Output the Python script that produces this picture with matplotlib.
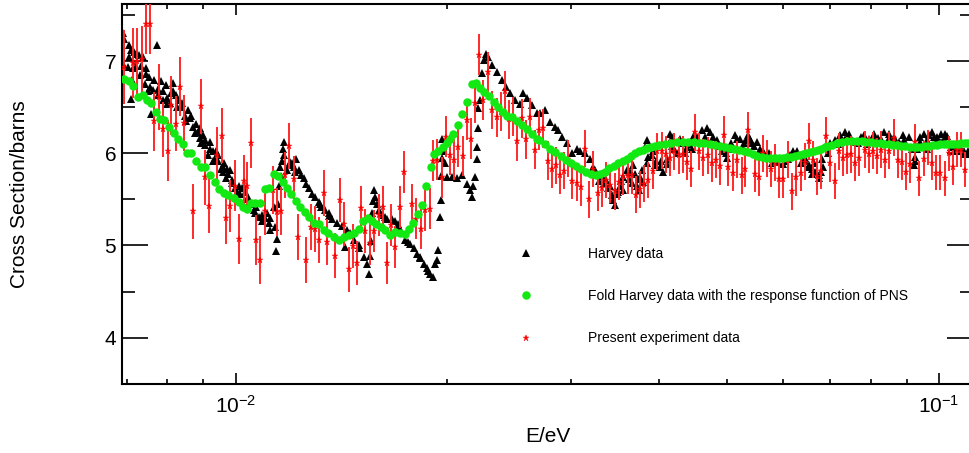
import matplotlib
matplotlib.use("Agg")
import matplotlib.pyplot as plt
from matplotlib.ticker import LogLocator, MultipleLocator, NullFormatter, FixedLocator

plt.rcParams['font.family'] = ['Liberation Sans', 'DejaVu Sans']
plt.rcParams['mathtext.fontset'] = 'custom'
plt.rcParams['mathtext.rm'] = 'Liberation Sans'

# Harvey data (E in eV, cross section in barns)
harvey_e = [0.006914, 0.006925, 0.006952, 0.007027, 0.007066, 0.007102, 0.007114, 0.007143, 0.007167, 0.007221,
            0.007302, 0.007314, 0.007381, 0.007429, 0.007461, 0.007545, 0.007565, 0.007585, 0.007628, 0.00767,
            0.007736, 0.007754, 0.007838, 0.007882, 0.007967, 0.007979, 0.008063, 0.008097, 0.008143, 0.008232,
            0.008324, 0.008368, 0.008469, 0.008553, 0.008609, 0.008694, 0.008789, 0.008838, 0.008897, 0.008935,
            0.008985, 0.009035, 0.009132, 0.009191, 0.009282, 0.009344, 0.009384, 0.009438, 0.009539, 0.009613,
            0.009645, 0.009687, 0.009719, 0.009826, 0.009881, 0.009987, 0.0101, 0.010153, 0.010267, 0.01032,
            0.010434, 0.010607, 0.010663, 0.010782, 0.0109, 0.01108, 0.011142, 0.0112, 0.011326, 0.011385,
            0.011411, 0.01145, 0.011506, 0.011543, 0.011574, 0.0116, 0.011638, 0.011665, 0.011704, 0.01183,
            0.011958, 0.012092, 0.012184, 0.012292, 0.012396, 0.012494, 0.012588, 0.0127, 0.012838, 0.012978,
            0.013123, 0.013235, 0.013409, 0.01356, 0.01371, 0.013936, 0.014164, 0.014316, 0.014552, 0.014717,
            0.01496, 0.01521, 0.015375, 0.01546, 0.01554, 0.015575, 0.015651, 0.015713, 0.015795, 0.015884,
            0.015974, 0.016147, 0.016416, 0.016686, 0.016867, 0.017056, 0.01724, 0.017428, 0.017718, 0.017914,
            0.01811, 0.018306, 0.01851, 0.01869, 0.018913, 0.0191, 0.019226, 0.019316, 0.019419, 0.019525,
            0.019569, 0.01962, 0.019651, 0.01968, 0.019735, 0.019847, 0.01996, 0.02029, 0.020623, 0.020966,
            0.021313, 0.021543, 0.021664, 0.021779, 0.0219, 0.022022, 0.022065, 0.0221, 0.022138, 0.02226,
            0.022384, 0.022552, 0.0227, 0.022873, 0.023129, 0.023508, 0.0239, 0.02424, 0.024557, 0.024967,
            0.025383, 0.025658, 0.025942, 0.02637, 0.0268, 0.02709, 0.02754, 0.02799, 0.02846, 0.02877,
            0.02909, 0.02957, 0.03006, 0.03055, 0.03088, 0.0314, 0.03192, 0.03227, 0.03263, 0.03316,
            0.0336, 0.03408, 0.03445, 0.03464, 0.03483, 0.03521, 0.03559, 0.03599, 0.03639, 0.03678,
            0.0372, 0.03748, 0.0378, 0.038, 0.03822, 0.03843, 0.03906, 0.03949, 0.04014, 0.04058,
            0.04104, 0.0414, 0.04172, 0.0424, 0.0431, 0.0438, 0.04453, 0.04527, 0.046, 0.04678,
            0.0473, 0.0478, 0.04834, 0.04914, 0.04982, 0.0506, 0.05133, 0.05205, 0.05274, 0.05343,
            0.0542, 0.0551, 0.0557, 0.0563, 0.05724, 0.05817, 0.05913, 0.0601, 0.0611, 0.0621,
            0.0628, 0.06355, 0.06439, 0.06525, 0.06598, 0.0667, 0.06741, 0.06816, 0.0689, 0.07005,
            0.0712, 0.07239, 0.07359, 0.07456, 0.0756, 0.0767, 0.07745, 0.07813, 0.0794, 0.08072,
            0.08205, 0.0834, 0.08478, 0.08617, 0.0876, 0.08906, 0.09054, 0.09203, 0.09254, 0.09315,
            0.09406, 0.0951, 0.09616, 0.09774, 0.09935, 0.10077, 0.1021, 0.1032, 0.1049, 0.10663,
            0.10839, 0.11018,
            0.0334, 0.035, 0.0374, 0.0384, 0.0396, 0.042, 0.0435, 0.0445, 0.0456, 0.0482,
            0.0499, 0.0527, 0.0539, 0.056, 0.0578, 0.0605, 0.0636, 0.066, 0.0675, 0.0685,
            0.0735, 0.079, 0.082, 0.0865, 0.0925, 0.096, 0.0985, 0.1005, 0.104, 0.1075, 0.11,
            0.0324, 0.0329, 0.0338, 0.0343, 0.0353, 0.0356, 0.0362, 0.0366, 0.037, 0.0376,
            0.0386, 0.0392, 0.0402, 0.041, 0.0417, 0.0428, 0.0441, 0.0449, 0.0465, 0.047,
            0.0487, 0.0495, 0.051, 0.0517, 0.0531, 0.0546, 0.0567, 0.0585, 0.0615, 0.0645,
            0.0652, 0.0665, 0.0679, 0.0696, 0.0718, 0.0745, 0.0772, 0.0805, 0.0828, 0.085,
            0.089, 0.0898, 0.0915, 0.094, 0.0968, 0.0995, 0.1015, 0.1028, 0.1058, 0.1085, 0.1108,
            0.00705, 0.00712, 0.0072, 0.00735, 0.00745, 0.00752, 0.00775, 0.0079, 0.008, 0.00815,
            0.00825, 0.0084, 0.0085, 0.00865, 0.00875, 0.0089, 0.00905, 0.0092, 0.0093, 0.00945,
            0.0096, 0.00975, 0.0099, 0.01005, 0.0102, 0.01038, 0.0105, 0.0107, 0.0109, 0.011,
            0.0112, 0.01172, 0.0119, 0.01205, 0.01215,
            0.0132, 0.0136, 0.0144, 0.015, 0.0157, 0.0163, 0.017, 0.0176, 0.0183, 0.0188]
harvey_xs = [7.30, 6.97, 7.24, 6.94, 7.17, 7.12, 6.59, 6.92, 7.10, 7.08,
             7.07, 6.85, 7.05, 6.75, 6.86, 6.83, 6.72, 6.43, 6.69, 6.79,
             7.17, 6.63, 6.78, 6.58, 6.74, 6.54, 6.55, 6.65, 6.76, 6.63,
             6.58, 6.50, 6.40, 6.47, 6.38, 6.29, 6.32, 6.23, 6.17, 6.11,
             6.20, 6.09, 5.98, 6.05, 6.02, 5.95, 6.03, 5.92, 5.83, 5.85,
             5.89, 5.73, 5.83, 5.82, 5.71, 5.62, 5.65, 5.56, 5.64, 5.58,
             5.53, 5.38, 5.35, 5.31, 5.27, 5.35, 5.24, 5.17, 5.42, 5.20,
             4.94, 5.07, 5.45, 5.65, 5.85, 5.75, 5.92, 6.05, 6.12, 5.82,
             5.91, 5.85, 5.94, 5.82, 5.76, 5.73, 5.67, 5.62, 5.56, 5.53,
             5.47, 5.42, 5.38, 5.32, 5.29, 5.24, 5.21, 4.98, 5.13, 5.06,
             4.97, 4.88, 4.80, 4.69, 4.89, 5.05, 5.35, 5.60, 5.53, 5.45,
             5.38, 5.33, 5.29, 5.29, 5.26, 5.20, 5.13, 5.06, 5.02, 4.97,
             4.91, 4.86, 4.80, 4.75, 4.69, 4.66, 4.80, 4.84, 4.95, 5.31,
             5.49, 5.75, 5.95, 6.16, 6.03, 5.89, 5.74, 5.74, 5.73, 5.76,
             5.67, 5.60, 5.53, 5.65, 5.74, 5.94, 6.07, 6.27, 6.49, 6.58,
             6.87, 7.01, 7.08, 7.05, 6.96, 6.88, 6.79, 6.72, 6.65, 6.58,
             6.54, 6.65, 6.60, 6.52, 6.44, 6.44, 6.47, 6.34, 6.29, 6.25,
             6.18, 6.11, 6.00, 6.05, 6.03, 6.00, 5.94, 5.85, 5.78, 5.75,
             5.71, 5.64, 5.49, 5.44, 5.56, 5.64, 5.74, 5.82, 5.80, 5.87,
             5.64, 5.60, 5.82, 5.69, 6.07, 6.14, 5.98, 5.87, 5.85, 5.80,
             5.94, 6.21, 6.18, 6.00, 6.11, 6.07, 6.14, 6.18, 6.25, 6.27,
             6.23, 6.18, 6.14, 6.03, 6.00, 6.11, 6.20, 6.16, 6.11, 6.20,
             6.11, 6.12, 6.05, 6.02, 6.00, 5.94, 5.91, 5.88, 5.94, 6.02,
             6.03, 5.98, 5.92, 5.87, 5.83, 5.80, 5.76, 5.94, 6.07, 6.11,
             6.14, 6.20, 6.23, 6.21, 6.12, 6.11, 6.18, 6.20, 6.16, 6.21,
             6.12, 6.23, 6.21, 6.18, 6.12, 6.14, 6.18, 5.87, 5.96, 6.05,
             6.18, 6.21, 6.14, 6.23, 6.14, 6.21, 6.21, 6.11, 6.03, 6.03,
             5.99, 5.99,
             5.68, 5.58, 5.72, 5.90, 5.92, 6.05, 6.00, 6.05, 6.12, 6.10,
             5.95, 6.06, 6.16, 6.00, 5.90, 5.92, 5.90, 5.78, 5.73, 5.85,
             6.15, 6.10, 6.17, 6.12, 5.92, 6.05, 6.18, 6.12, 6.07, 6.05, 6.03,
             5.82, 5.70, 5.62, 5.55, 5.70, 5.60, 5.72, 5.68, 5.78, 5.74,
             5.96, 6.02, 5.92, 5.88, 6.08, 6.15, 6.10, 6.20, 6.18, 6.12,
             6.08, 6.04, 6.05, 6.16, 6.14, 6.08, 5.97, 5.97, 5.98, 5.95,
             5.85, 5.90, 5.80, 6.00, 6.10, 6.15, 6.14, 6.18, 6.15, 6.17,
             6.20, 6.09, 6.05, 6.12, 6.20, 6.18, 6.15, 6.19, 6.06, 6.02, 6.01,
             7.05, 6.80, 6.95, 6.95, 6.92, 6.68, 6.70, 6.68, 6.60, 6.68,
             6.50, 6.55, 6.35, 6.40, 6.22, 6.27, 6.14, 6.12, 5.92, 5.98,
             5.80, 5.77, 5.68, 5.58, 5.62, 5.50, 5.45, 5.42, 5.33, 5.30,
             5.30, 5.98, 5.87, 5.90, 5.80,
             5.45, 5.35, 5.17, 5.00, 5.48, 5.31, 5.23, 5.04, 4.88, 4.72]

# Harvey data folded with the PNS response function
fold_e = [0.006936, 0.007067, 0.007144, 0.007261, 0.007381, 0.007486, 0.007584, 0.007711, 0.007822, 0.007925,
          0.008055, 0.00817, 0.008296, 0.008414, 0.008535, 0.008647, 0.00879, 0.008934, 0.009052, 0.009184,
          0.009336, 0.009489, 0.009625, 0.009772, 0.009935, 0.010099, 0.010232, 0.010378, 0.010525, 0.010664,
          0.010839, 0.010997, 0.011141, 0.011327, 0.011487, 0.011666, 0.011831, 0.011999, 0.012185, 0.012358,
          0.012538, 0.012702, 0.012912, 0.013125, 0.013342, 0.013531, 0.013786, 0.014013, 0.014245, 0.01448,
          0.014721, 0.014962, 0.015174, 0.01541, 0.015628, 0.015849, 0.016095, 0.016323, 0.016592, 0.016866,
          0.017144, 0.017429, 0.017623, 0.017872, 0.01815, 0.018408, 0.018668, 0.018958, 0.019146, 0.019418,
          0.019701, 0.019957, 0.020175, 0.020394, 0.020692, 0.021005, 0.021311, 0.021662, 0.021968, 0.022259,
          0.022574, 0.022946, 0.023303, 0.023633, 0.024028, 0.024343, 0.024698, 0.025106, 0.02552, 0.025941,
          0.026375, 0.02681,
          0.0270, 0.0275, 0.0280, 0.0285, 0.0290, 0.0295, 0.0300, 0.0305, 0.0310, 0.0315,
          0.0320, 0.0325, 0.0330, 0.0335, 0.0340, 0.0345, 0.0350, 0.0355, 0.0360, 0.0365,
          0.0370, 0.0375, 0.0380, 0.0385, 0.0390, 0.0395, 0.0400,
          0.0408, 0.0416, 0.0424, 0.0432, 0.0440, 0.0448, 0.0456, 0.0464, 0.0472, 0.0480,
          0.0488, 0.0496, 0.0504, 0.0512, 0.0520, 0.0528, 0.0536, 0.0544, 0.0552, 0.0560,
          0.0568, 0.0576, 0.0584, 0.0592, 0.0600, 0.0608, 0.0616, 0.0624, 0.0632, 0.0640,
          0.0648, 0.0656, 0.0664, 0.0672, 0.0680, 0.0688, 0.0696, 0.0704,
          0.0716, 0.0728, 0.0740, 0.0752, 0.0764, 0.0776, 0.0788, 0.0800, 0.0812, 0.0824,
          0.0836, 0.0848, 0.0860, 0.0872, 0.0884, 0.0896, 0.0908, 0.0920, 0.0932, 0.0944,
          0.0956, 0.0968, 0.0980, 0.0992, 0.1004, 0.1016, 0.1028, 0.1040, 0.1052, 0.1064,
          0.1076, 0.1088, 0.1100, 0.1112]
fold_xs = [6.81, 6.78, 6.73, 6.61, 6.63, 6.58, 6.55, 6.45, 6.37, 6.36,
           6.28, 6.22, 6.16, 6.10, 6.00, 6.00, 5.92, 5.85, 5.85, 5.76,
           5.69, 5.61, 5.57, 5.55, 5.51, 5.47, 5.42, 5.40, 5.46, 5.46,
           5.46, 5.61, 5.62, 5.77, 5.75, 5.69, 5.62, 5.56, 5.48, 5.42,
           5.36, 5.31, 5.24, 5.23, 5.17, 5.13, 5.09, 5.06, 5.09, 5.11,
           5.14, 5.18, 5.26, 5.30, 5.27, 5.23, 5.20, 5.17, 5.11, 5.15,
           5.14, 5.12, 5.18, 5.24, 5.34, 5.44, 5.64, 5.85, 5.99, 6.03,
           6.07, 6.11, 6.16, 6.21, 6.31, 6.43, 6.56, 6.75, 6.76, 6.71,
           6.66, 6.62, 6.56, 6.50, 6.45, 6.41, 6.39, 6.35, 6.31, 6.26,
           6.21, 6.16,
           6.14, 6.10, 6.05, 6.01, 5.97, 5.93, 5.89, 5.86, 5.83, 5.80,
           5.78, 5.76, 5.78, 5.80, 5.84, 5.86, 5.89, 5.92, 5.94, 5.97,
           6.00, 6.02, 6.04, 6.06, 6.07, 6.08, 6.09,
           6.10, 6.11, 6.12, 6.12, 6.12, 6.12, 6.11, 6.11, 6.10, 6.09,
           6.08, 6.07, 6.06, 6.05, 6.04, 6.03, 6.01, 5.99, 5.97, 5.96,
           5.95, 5.95, 5.95, 5.95, 5.95, 5.96, 5.96, 5.97, 5.98, 5.99,
           6.00, 6.01, 6.02, 6.04, 6.05, 6.07, 6.08, 6.09,
           6.11, 6.12, 6.13, 6.13, 6.13, 6.13, 6.12, 6.12, 6.11, 6.11,
           6.10, 6.10, 6.09, 6.09, 6.08, 6.08, 6.07, 6.07, 6.07, 6.07,
           6.08, 6.08, 6.09, 6.09, 6.10, 6.10, 6.10, 6.10, 6.10, 6.10,
           6.11, 6.11, 6.11, 6.11]

# Present experiment (PNS) data with errors
pns_e = [0.006952, 0.007143, 0.007245, 0.007357, 0.007461, 0.00756, 0.00767, 0.007772, 0.007882, 0.00801,
         0.008097, 0.008232, 0.00834, 0.008461, 0.008694, 0.008935, 0.009053, 0.009182, 0.009416, 0.00956,
         0.009697, 0.009826, 0.009968, 0.0101, 0.010267, 0.010377, 0.010524, 0.010688, 0.01084, 0.010996,
         0.011289, 0.01145, 0.011612, 0.011766, 0.01192, 0.012092, 0.012264, 0.012588, 0.012808, 0.012978,
         0.013149, 0.01334, 0.013484, 0.01386, 0.014086, 0.01427, 0.014476, 0.014683, 0.014878, 0.01509,
         0.01529, 0.01551, 0.015713, 0.015974, 0.016184, 0.016416, 0.016632, 0.016867, 0.017111, 0.017337,
         0.017817, 0.018067, 0.018347, 0.018606, 0.018875, 0.019081, 0.019355, 0.019632, 0.019913, 0.020178,
         0.020441, 0.020733, 0.021035, 0.021313, 0.021593, 0.0219, 0.02221, 0.0225, 0.02283, 0.023174,
         0.023508, 0.02382, 0.02416, 0.0245, 0.02478, 0.02516, 0.025525, 0.02588, 0.02622, 0.026655,
         0.027, 0.02739, 0.02778, 0.02815, 0.02855, 0.028925, 0.02931, 0.02973, 0.03009, 0.03055,
         0.03098, 0.0314, 0.03181, 0.03227, 0.03273, 0.03316, 0.0336, 0.03408, 0.03464, 0.03509,
         0.03559, 0.03611, 0.03659, 0.03711, 0.0376, 0.03809, 0.03863, 0.03919, 0.03971, 0.04036,
         0.04095, 0.04149, 0.04203, 0.04263, 0.04324, 0.0438, 0.04439, 0.04502, 0.04566, 0.04626,
         0.0469, 0.04755, 0.04822, 0.04886, 0.04955, 0.05015, 0.05094, 0.05161, 0.05247, 0.05303,
         0.0536, 0.05467, 0.05539, 0.0563, 0.05693, 0.05774, 0.0585, 0.05927, 0.0601, 0.06098,
         0.06178, 0.0626, 0.06355, 0.06439, 0.06525, 0.0662, 0.06707, 0.068, 0.06907, 0.07005,
         0.07105, 0.07198, 0.07294, 0.074, 0.07505, 0.07602, 0.07704, 0.07839, 0.0794, 0.08045,
         0.08163, 0.08279, 0.08387, 0.08497, 0.08617, 0.08743, 0.08859, 0.08976, 0.09104, 0.09233,
         0.09376, 0.0951, 0.09647, 0.09774, 0.09903, 0.10043, 0.10187, 0.1032, 0.10455, 0.10607,
         0.10758, 0.109]
pns_xs = [6.94, 6.98, 7.00, 7.02, 7.40, 7.40, 6.35, 6.61, 6.26, 6.03,
          6.52, 6.32, 6.72, 6.33, 5.37, 6.51, 5.74, 5.43, 5.98, 6.19,
          5.30, 5.43, 5.65, 5.07, 5.70, 5.64, 6.11, 5.06, 4.84, 5.37,
          5.60, 5.36, 5.37, 5.76, 6.08, 5.72, 5.09, 4.84, 5.20, 5.18,
          5.06, 5.57, 5.04, 4.89, 5.49, 5.23, 4.74, 4.99, 4.81, 5.41,
          5.16, 5.03, 5.16, 5.33, 5.42, 4.81, 5.22, 4.98, 5.42, 5.80,
          5.45, 5.29, 5.18, 5.38, 5.40, 5.92, 5.93, 5.74, 6.18, 5.98,
          5.93, 6.07, 5.97, 6.36, 6.16, 6.55, 7.07, 6.58, 6.88, 6.47,
          6.39, 6.45, 6.68, 6.37, 6.40, 6.13, 6.38, 6.15, 6.39, 6.04,
          6.25, 6.27, 5.92, 5.83, 5.87, 5.76, 5.81, 5.94, 5.70, 5.68,
          5.63, 6.05, 5.50, 5.83, 5.57, 5.62, 5.71, 5.66, 5.59, 5.69,
          5.75, 5.76, 5.76, 5.55, 5.61, 5.67, 5.71, 5.81, 6.02, 6.03,
          5.99, 5.95, 6.02, 5.98, 5.99, 5.91, 5.83, 6.23, 6.02, 5.95,
          5.98, 5.89, 5.93, 5.86, 6.20, 5.85, 5.79, 5.93, 5.76, 5.83,
          6.25, 5.78, 5.74, 6.00, 5.94, 5.83, 5.90, 5.72, 5.72, 5.93,
          5.59, 5.74, 5.79, 5.91, 6.13, 5.93, 5.75, 5.81, 6.19, 5.89,
          5.70, 6.02, 5.95, 5.98, 5.99, 5.90, 5.95, 6.04, 5.99, 6.03,
          5.97, 6.04, 5.93, 6.03, 6.17, 5.93, 5.91, 5.80, 5.88, 6.12,
          5.73, 5.94, 6.06, 5.90, 5.79, 5.79, 5.73, 6.00, 5.85, 6.04,
          6.04, 5.82]
pns_err = [0.40, 0.38, 0.36, 0.36, 0.32, 0.32, 0.32, 0.36, 0.30, 0.33,
           0.32, 0.30, 0.32, 0.30, 0.30, 0.30, 0.30, 0.30, 0.30, 0.30,
           0.28, 0.28, 0.28, 0.27, 0.28, 0.27, 0.27, 0.27, 0.26, 0.26,
           0.26, 0.26, 0.26, 0.25, 0.25, 0.25, 0.25, 0.25, 0.25, 0.25,
           0.25, 0.25, 0.25, 0.24, 0.24, 0.24, 0.24, 0.24, 0.24, 0.24,
           0.24, 0.24, 0.23, 0.23, 0.23, 0.23, 0.23, 0.23, 0.23, 0.23,
           0.22, 0.22, 0.22, 0.22, 0.22, 0.22, 0.22, 0.22, 0.22, 0.22,
           0.22, 0.22, 0.22, 0.22, 0.22, 0.22, 0.22, 0.22, 0.22, 0.21,
           0.21, 0.21, 0.21, 0.21, 0.21, 0.21, 0.21, 0.21, 0.21, 0.21,
           0.21, 0.21, 0.21, 0.21, 0.20, 0.20, 0.20, 0.20, 0.20, 0.20,
           0.20, 0.20, 0.20, 0.20, 0.20, 0.20, 0.20, 0.20, 0.20, 0.20,
           0.20, 0.20, 0.20, 0.20, 0.20, 0.20, 0.20, 0.20, 0.20, 0.20,
           0.20, 0.20, 0.20, 0.20, 0.20, 0.20, 0.20, 0.20, 0.20, 0.20,
           0.20, 0.20, 0.20, 0.20, 0.20, 0.20, 0.20, 0.20, 0.20, 0.20,
           0.20, 0.20, 0.20, 0.20, 0.20, 0.20, 0.20, 0.20, 0.20, 0.20,
           0.20, 0.20, 0.20, 0.20, 0.20, 0.20, 0.20, 0.20, 0.20, 0.20,
           0.20, 0.20, 0.20, 0.20, 0.20, 0.20, 0.20, 0.20, 0.20, 0.20,
           0.20, 0.20, 0.20, 0.20, 0.20, 0.20, 0.20, 0.20, 0.20, 0.20,
           0.19, 0.19, 0.19, 0.19, 0.19, 0.19, 0.19, 0.19, 0.19, 0.19,
           0.19, 0.19]

labels = ['Harvey data', 'Fold Harvey data with the response function of PNS', 'Present experiment data']
green = '#12e812'


def cross_section_plot():
    fig = plt.figure(figsize=(9.69, 4.53), dpi=100)
    ax = fig.add_axes([0.1256, 0.153, 0.8789, 0.8382])

    h1, = ax.plot(harvey_e, harvey_xs, '^', color='black', ms=5.7, mew=0, ls='none', zorder=2)
    ax.errorbar(pns_e, pns_xs, yerr=pns_err, fmt='none', ecolor='#ff2a2a', elinewidth=1.4,
                capsize=0, zorder=3)
    h3, = ax.plot(pns_e, pns_xs, '*', color='red', ms=5.0, mew=0.3, ls='none', zorder=4)
    h2, = ax.plot(fold_e, fold_xs, 'o', color=green, ms=6.1, mew=0, ls='none', zorder=5)

    ax.set_xscale('log')
    ax.set_xlim(0.00689, 0.1119)
    ax.set_ylim(3.5, 7.62)

    ax.xaxis.set_major_locator(LogLocator(base=10))
    ax.xaxis.set_minor_locator(LogLocator(base=10, subs=[2, 3, 4, 5, 6, 7, 8, 9]))
    ax.xaxis.set_minor_formatter(NullFormatter())
    ax.yaxis.set_major_locator(FixedLocator([4, 5, 6, 7]))
    ax.yaxis.set_minor_locator(MultipleLocator(0.5))

    ax.tick_params(which='both', direction='in', top=True, right=True, width=1.2, labelsize=15)
    ax.tick_params(axis='x', which='major', length=8, pad=8)
    ax.tick_params(axis='x', which='minor', length=3.8)
    ax.tick_params(axis='y', which='major', length=18.5, pad=4)
    ax.tick_params(axis='y', which='minor', length=9.4)
    for s in ax.spines.values():
        s.set_linewidth(1.5)

    ax.set_xlabel('E/eV', fontsize=15)
    ax.set_ylabel('Cross Section/barns', fontsize=15)
    ax.xaxis.set_label_coords(0.5, -0.115)
    ax.yaxis.set_label_coords(-0.109, 0.5)

    ax.legend([h1, h2, h3], labels, loc='upper left', bbox_to_anchor=(0.4584, 0.36),
              frameon=False, fontsize=10, borderpad=0, borderaxespad=0,
              handlelength=2.0, handletextpad=3.5, labelspacing=2.03, numpoints=1)

    fig.savefig('out.png', dpi=100)


if __name__ == '__main__':
    cross_section_plot()
